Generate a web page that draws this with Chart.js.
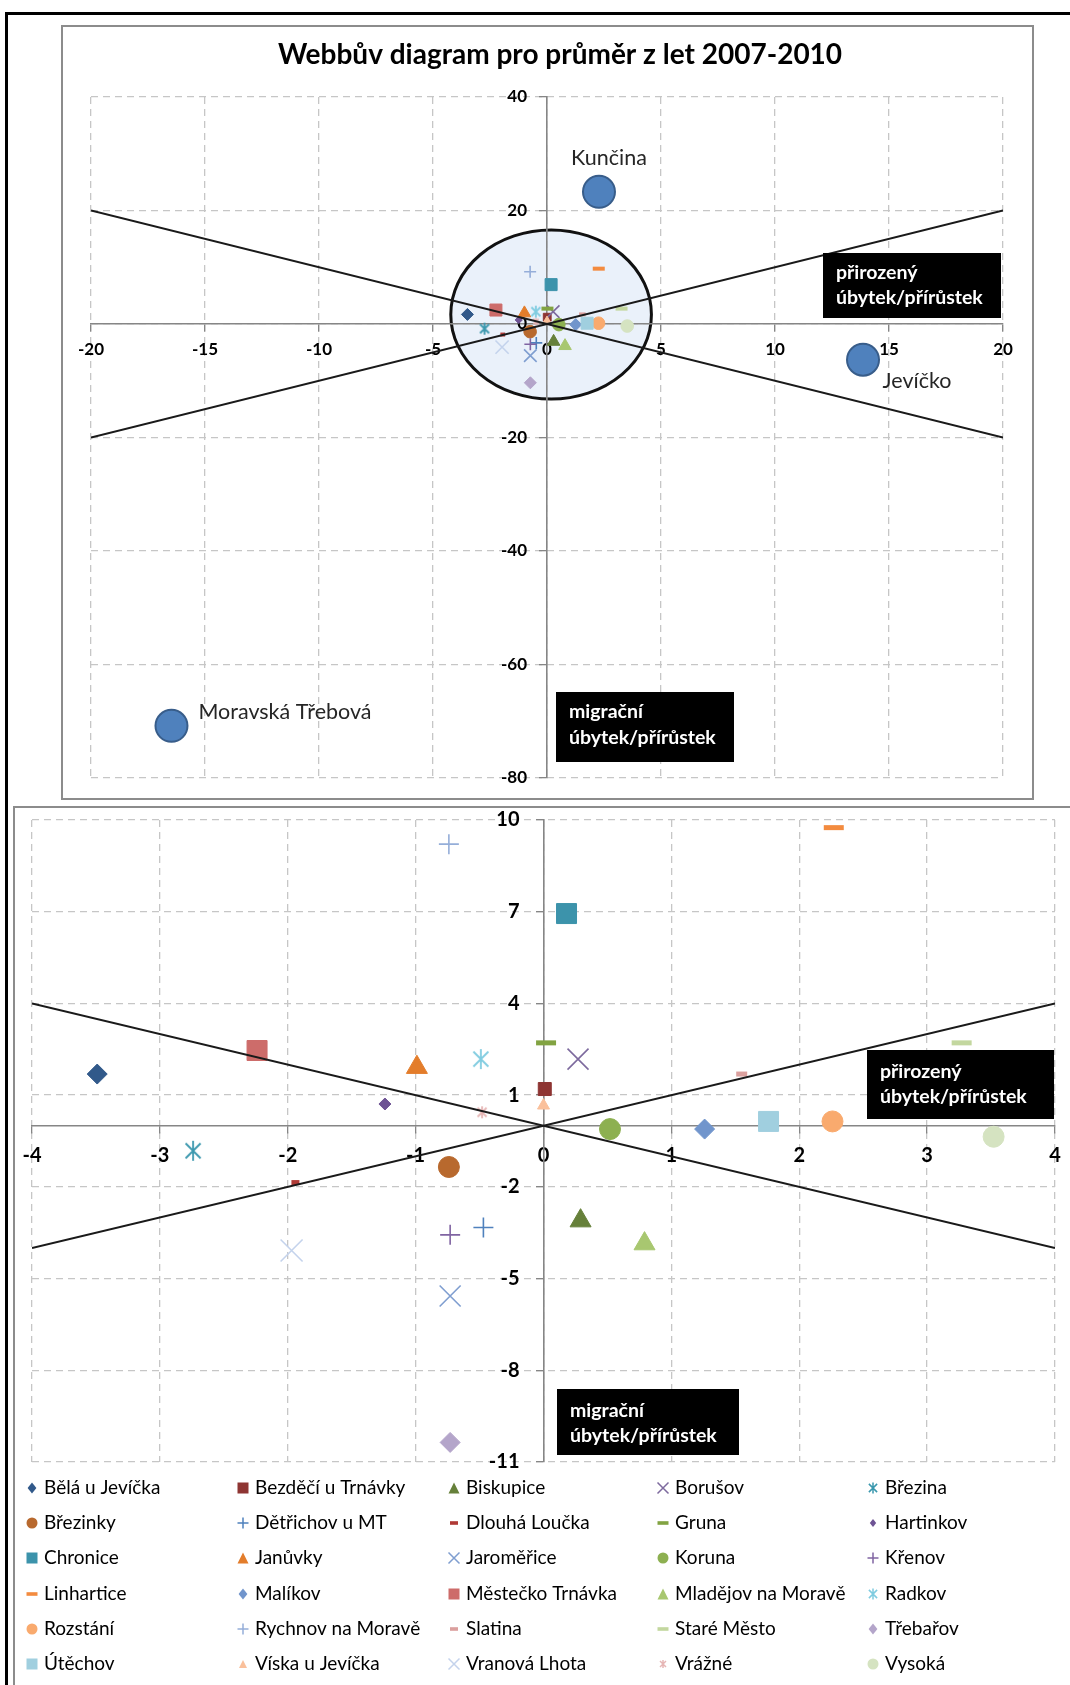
<!DOCTYPE html>
<html lang="cs">
<head>
<meta charset="utf-8">
<title>Webbův diagram pro průměr z let 2007-2010</title>
<script src="https://cdn.jsdelivr.net/npm/chart.js@4.4.1/dist/chart.umd.min.js"></script>
<style>
  html, body { margin: 0; padding: 0; background: #fff; }
  body { width: 1070px; height: 1685px; position: relative; overflow: hidden; }
  .edge { position: absolute; background: #000; }
  #edgeTop { left: 5px; top: 12px; width: 1065px; height: 3px; }
  #edgeLeft { left: 5px; top: 12px; width: 3px; height: 1673px; }
  .box { position: absolute; border: 2px solid #8c8c8c; background: #fff; }
  #topBox { left: 61px; top: 25px; width: 969px; height: 771px; }
  #bottomBox { left: 13px; top: 806px; width: 1060px; height: 900px; }
  canvas { display: block; }
</style>
</head>
<body>
<div class="edge" id="edgeTop"></div>
<div class="edge" id="edgeLeft"></div>
<div class="box" id="topBox"><canvas id="topChart" width="969" height="771"></canvas></div>
<div class="box" id="bottomBox"><canvas id="bottomChart" width="1055" height="877"></canvas></div>
<script>
'use strict';

// obce: přirozený přírůstek (x) a migrační přírůstek (y), průměr 2007-2010
const towns = ['Bělá u Jevíčka', 'Bezděčí u Trnávky', 'Biskupice', 'Borušov', 'Březina',
    'Březinky', 'Dětřichov u MT', 'Dlouhá Loučka', 'Gruna', 'Hartinkov',
    'Chronice', 'Janůvky', 'Jaroměřice', 'Koruna', 'Křenov',
    'Linhartice', 'Malíkov', 'Městečko Trnávka', 'Mladějov na Moravě', 'Radkov',
    'Rozstání', 'Rychnov na Moravě', 'Slatina', 'Staré Město', 'Třebařov',
    'Útěchov', 'Víska u Jevíčka', 'Vranová Lhota', 'Vrážné', 'Vysoká'];
const natural = [-3.49, 0.01, 0.29, 0.27, -2.74,
    -0.74, -0.47, -1.94, 0.02, -1.24,
    0.18, -0.99, -0.73, 0.52, -0.73,
    2.27, 1.26, -2.24, 0.79, -0.49,
    2.26, -0.74, 1.55, 3.27, -0.73,
    1.76, 0.00, -1.97, -0.48, 3.52];
const migration = [1.69, 1.20, -3.11, 2.18, -0.82,
    -1.35, -3.33, -1.86, 2.71, 0.71,
    6.94, 1.91, -5.57, -0.11, -3.57,
    9.75, -0.11, 2.46, -3.86, 2.18,
    0.14, 9.21, 1.69, 2.71, -10.36,
    0.14, 0.66, -4.08, 0.44, -0.36];

// města mimo výřez (jen horní graf)
const bigTowns = ['Jevíčko', 'Kunčina', 'Moravská Třebová'];
const bigNatural = [13.86, 2.28, -16.47];
const bigMigration = [-6.3, 23.3, -70.8];

const topXTicks = [-20, -15, -10, -5, 0, 5, 10, 15, 20];
const topYTicks = [-80, -60, -40, -20, 0, 20, 40];
const bottomXTicks = [-4, -3, -2, -1, 0, 1, 2, 3, 4];
const bottomYTicks = [-11, -8, -5, -2, 1, 4, 7, 10];

// dělicí přímky y = x a y = -x
const topRise = [[-20, -20], [20, 20]];
const topFall = [[-20, 20], [20, -20]];
const bottomRise = [[-4, -4], [4, 4]];
const bottomFall = [[-4, 4], [4, -4]];

// elipsa kolem středu (jednotky os)
const centreEllipse = {x: 0.18, y: 1.67, rx: 4.4, ry: 14.9};

// --- styles ---
const colours = ['#31598A', '#8E3533', '#66803A', '#7D6A9E', '#3B98AE',
    '#B8692E', '#4F81BD', '#B03A36', '#82A342', '#6E5394',
    '#3C93AB', '#E37D2B', '#7F9ED0', '#8DB051', '#8064A2',
    '#F38B3F', '#7195CC', '#CD6C6A', '#A8C770', '#80CCE0',
    '#F9AA6E', '#95AED9', '#DBA09E', '#C3D79F', '#B4A5CA',
    '#A0CFDF', '#FAC09B', '#C4D3EC', '#E6B6B5', '#D5E3C1'];
const shapes = ['diamond', 'square', 'triangle', 'x', 'star',
    'circle', 'plus', 'dash', 'dash', 'diamond',
    'square', 'triangle', 'x', 'circle', 'plus',
    'dash', 'diamond', 'square', 'triangle', 'star',
    'circle', 'plus', 'dash', 'dash', 'diamond',
    'square', 'triangle', 'x', 'star', 'circle'];
const sizes = [20, 13, 21, 21, 20,
    21, 20, 8, 20, 12,
    20, 21, 21, 21, 20,
    20, 20, 20, 21, 20,
    21, 20, 11, 20, 20,
    20, 12, 22, 12, 21];

const gridColor = '#c6c6c6';
const axisColor = '#868686';

function asteriskCanvas(size, colour, lw) {
    const n = Math.ceil(size) + 2;
    const c = document.createElement('canvas');
    c.width = n;
    c.height = n;
    const g = c.getContext('2d');
    const m = n / 2, r = size / 2, d = r * 0.75;
    g.strokeStyle = colour;
    g.lineWidth = lw;
    g.beginPath();
    g.moveTo(m, m - r); g.lineTo(m, m + r);
    g.moveTo(m - d, m - d); g.lineTo(m + d, m + d);
    g.moveTo(m + d, m - d); g.lineTo(m - d, m + d);
    g.stroke();
    return c;
}

function markerOptions(i, scale) {
    const s = sizes[i] * scale, c = colours[i];
    const o = {pointStyle: 'circle', pointRadius: s / 2, pointBorderWidth: 1};
    switch (shapes[i]) {
        case 'diamond': o.pointStyle = 'rectRot'; break;
        case 'square': o.pointStyle = 'rect'; o.pointRadius = s / 2 / Math.SQRT1_2; break;
        case 'triangle': o.pointStyle = 'triangle'; o.pointRadius = s / Math.sqrt(3); break;
        case 'plus': o.pointStyle = 'cross'; o.pointBorderWidth = 1.6; break;
        case 'x': o.pointStyle = 'crossRot'; o.pointRadius = s / 2 / Math.SQRT1_2; o.pointBorderWidth = 1.6; break;
        case 'dash': o.pointStyle = 'line'; o.pointBorderWidth = 5 * Math.max(scale, 0.8); break;
        case 'star': o.pointStyle = asteriskCanvas(s, c, 1.8); break;
    }
    o.pointHoverRadius = o.pointRadius;
    o.pointBackgroundColor = c;
    o.pointBorderColor = c;
    return o;
}

function townDatasets(scale) {
    return towns.map((name, i) => Object.assign({
        label: name,
        data: [{x: natural[i], y: migration[i]}],
        order: 40 - i
    }, markerOptions(i, scale)));
}

function lineDataset(pairs) {
    return {
        label: '',
        data: pairs.map(p => ({x: p[0], y: p[1]})),
        showLine: true,
        borderColor: '#1a1a1a',
        borderWidth: 2,
        pointRadius: 0,
        pointHoverRadius: 0,
        order: -1
    };
}

// osy protínající se v nule (jako v Excelu)
function axes(xTicks, yTicks, fontSize, xPad) {
    const tickFont = {family: 'Lato', weight: 'bold', size: fontSize};
    const common = {
        type: 'linear',
        grid: {color: gridColor, lineWidth: 1.3, borderDash: [7, 5], tickColor: axisColor, tickLength: 7, tickWidth: 1.3, tickBorderDash: []},
        border: {display: true, color: axisColor, width: 1.6, dash: [7, 5]},
        afterFit: s => {
            s.paddingTop = 0; s.paddingBottom = 0; s.paddingLeft = 0; s.paddingRight = 0;
        }
    };
    return {
        x: Object.assign({}, common, {
            axis: 'x',
            position: {y: 0},
            min: xTicks[0], max: xTicks[xTicks.length - 1],
            afterBuildTicks: s => { s.ticks = xTicks.map(v => ({value: v})); },
            ticks: {font: tickFont, color: '#000', padding: xPad, autoSkip: false, maxRotation: 0}
        }),
        y: Object.assign({}, common, {
            axis: 'y',
            position: {x: 0},
            min: yTicks[0], max: yTicks[yTicks.length - 1],
            afterBuildTicks: s => { s.ticks = yTicks.map(v => ({value: v})); },
            ticks: {font: tickFont, color: '#000', autoSkip: false}
        })
    };
}

// popisky svislé osy odsadit od osy (u osy v nule je Chart.js kreslí až k čáře)
const yLabelGapPlugin = {
    id: 'yLabelGap',
    beforeDraw(chart, args, opts) {
        const items = chart.scales.y.getLabelItems();
        if (items._shifted) return;
        items.forEach(it => { it.options.translation[0] -= opts.gap; });
        items._shifted = true;
    }
};

// nadpis v originále není přesně nad osou
const titleShiftPlugin = {
    id: 'titleShift',
    afterLayout(chart, args, opts) {
        if (!opts.dx || !chart.titleBlock) return;
        chart.titleBlock.left += opts.dx;
        chart.titleBlock.right += opts.dx;
    }
};

const ellipsePlugin = {
    id: 'centreEllipse',
    beforeDraw(chart, args, opts) {
        if (!opts.show) return;
        const {ctx, scales: {x, y}} = chart;
        const cx = x.getPixelForValue(centreEllipse.x);
        const cy = y.getPixelForValue(centreEllipse.y);
        const rx = Math.abs(x.getPixelForValue(centreEllipse.x + centreEllipse.rx) - cx);
        const ry = Math.abs(y.getPixelForValue(centreEllipse.y + centreEllipse.ry) - cy);
        ctx.save();
        ctx.beginPath();
        ctx.ellipse(cx, cy, rx, ry, 0, 0, Math.PI * 2);
        ctx.fillStyle = '#EAF1FA';
        ctx.fill();
        ctx.lineWidth = 3;
        ctx.strokeStyle = '#111';
        ctx.stroke();
        ctx.restore();
    }
};

// popisky velkých měst vedle bublin
const bubbleLabelPlugin = {
    id: 'bubbleLabels',
    afterDatasetsDraw(chart, args, opts) {
        if (!opts.offsets) return;
        const {ctx} = chart;
        chart.data.datasets.forEach((ds, di) => {
            if (!ds.townLabels) return;
            chart.getDatasetMeta(di).data.forEach((pt, k) => {
                const name = ds.townLabels[k];
                const off = opts.offsets[name];
                ctx.save();
                ctx.font = '21.5px Lato';
                ctx.fillStyle = '#262626';
                ctx.textAlign = off[2];
                ctx.textBaseline = 'middle';
                ctx.fillText(name, pt.x + off[0], pt.y + off[1]);
                ctx.restore();
            });
        });
    }
};

// černé popisky kvadrantů
const noteBoxPlugin = {
    id: 'noteBoxes',
    afterDraw(chart, args, opts) {
        if (!opts.items) return;
        const {ctx} = chart;
        opts.items.forEach(b => {
            ctx.save();
            ctx.fillStyle = '#000';
            ctx.fillRect(b.x, b.y, b.w, b.h);
            ctx.fillStyle = '#fff';
            ctx.font = 'bold 19.5px Lato';
            ctx.textBaseline = 'middle';
            ctx.textAlign = 'left';
            b.lines.forEach((t, k) => ctx.fillText(t, b.x + 13, b.y + b.lineY[k]));
            ctx.restore();
        });
    }
};

function drawLegendMarker(ctx, shape, cx, cy, s, colour) {
    const r = s / 2;
    ctx.fillStyle = colour;
    ctx.strokeStyle = colour;
    ctx.lineWidth = 1.5;
    ctx.beginPath();
    switch (shape) {
        case 'diamond':
            ctx.moveTo(cx, cy - r); ctx.lineTo(cx + r * 0.8, cy); ctx.lineTo(cx, cy + r); ctx.lineTo(cx - r * 0.8, cy);
            ctx.closePath(); ctx.fill(); break;
        case 'square':
            ctx.fillRect(cx - r, cy - r, s, s); break;
        case 'triangle':
            ctx.moveTo(cx, cy - r); ctx.lineTo(cx + r, cy + r); ctx.lineTo(cx - r, cy + r);
            ctx.closePath(); ctx.fill(); break;
        case 'circle':
            ctx.arc(cx, cy, r, 0, Math.PI * 2); ctx.fill(); break;
        case 'plus':
            ctx.moveTo(cx - r, cy); ctx.lineTo(cx + r, cy); ctx.moveTo(cx, cy - r); ctx.lineTo(cx, cy + r);
            ctx.stroke(); break;
        case 'x':
            ctx.moveTo(cx - r, cy - r); ctx.lineTo(cx + r, cy + r); ctx.moveTo(cx + r, cy - r); ctx.lineTo(cx - r, cy + r);
            ctx.stroke(); break;
        case 'star':
            ctx.moveTo(cx, cy - r); ctx.lineTo(cx, cy + r);
            ctx.moveTo(cx - r * 0.75, cy - r * 0.75); ctx.lineTo(cx + r * 0.75, cy + r * 0.75);
            ctx.moveTo(cx + r * 0.75, cy - r * 0.75); ctx.lineTo(cx - r * 0.75, cy + r * 0.75);
            ctx.stroke(); break;
        case 'dash':
            ctx.fillRect(cx - r, cy - 1.8, s, 3.6); break;
    }
}

const gridLegendPlugin = {
    id: 'gridLegend',
    afterDraw(chart, args, opts) {
        if (!opts.cols) return;
        const {ctx} = chart;
        towns.forEach((name, i) => {
            const col = i % opts.cols.length;
            const row = Math.floor(i / opts.cols.length);
            const mx = opts.cols[col], my = opts.rows[row];
            ctx.save();
            drawLegendMarker(ctx, shapes[i], mx, my, sizes[i] >= 13 ? 11 : 8, colours[i]);
            ctx.fillStyle = '#000';
            ctx.font = '19px Lato';
            ctx.textBaseline = 'middle';
            ctx.textAlign = 'left';
            ctx.fillText(name, mx + opts.gap, my);
            ctx.restore();
        });
    }
};

Chart.register(yLabelGapPlugin, titleShiftPlugin, ellipsePlugin, bubbleLabelPlugin, noteBoxPlugin, gridLegendPlugin);
Chart.defaults.font.family = "Lato, sans-serif";
Chart.defaults.animation = false;

// --- horní graf ---
let topDatasets = [lineDataset(topRise), lineDataset(topFall)].concat(townDatasets(0.6));
topDatasets.push({
    label: 'města',
    townLabels: bigTowns,
    data: bigNatural.map((v, i) => ({x: v, y: bigMigration[i]})),
    pointStyle: 'circle',
    pointRadius: 16,
    pointHoverRadius: 16,
    pointBackgroundColor: '#4F81BD',
    pointBorderColor: '#385D8A',
    pointBorderWidth: 2,
    order: 0
});

let topChart = new Chart(document.getElementById('topChart').getContext('2d'), {
    type: 'scatter',
    data: {datasets: topDatasets},
    options: {
        responsive: false,
        devicePixelRatio: 1,
        events: [],
        layout: {autoPadding: false, padding: {top: 0, left: 28, right: 29, bottom: 20}},
        scales: axes(topXTicks, topYTicks, 17, 8.8),
        plugins: {
            legend: {display: false},
            tooltip: {enabled: false},
            title: {
                display: true,
                text: 'Webbův diagram pro průměr z let 2007-2010',
                color: '#000',
                font: {family: 'Lato', weight: 'bold', size: 28},
                padding: {top: 10.9, bottom: 25.5}
            },
            titleShift: {dx: 13},
            yLabelGap: {gap: 20},
            centreEllipse: {show: true},
            bubbleLabels: {
                offsets: {
                    'Jevíčko': [54, 21, 'center'],
                    'Kunčina': [10, -34, 'center'],
                    'Moravská Třebová': [27, -14, 'left']
                }
            },
            noteBoxes: {
                items: [
                    {x: 760, y: 226, w: 178, h: 65, lines: ['přirozený', 'úbytek/přírůstek'], lineY: [20, 45]},
                    {x: 493, y: 665, w: 178, h: 70, lines: ['migrační', 'úbytek/přírůstek'], lineY: [20, 46]}
                ]
            }
        }
    }
});

// --- dolní graf (detail středu) ---
let bottomChart = new Chart(document.getElementById('bottomChart').getContext('2d'), {
    type: 'scatter',
    data: {datasets: [lineDataset(bottomRise), lineDataset(bottomFall)].concat(townDatasets(1))},
    options: {
        responsive: false,
        devicePixelRatio: 1,
        events: [],
        layout: {autoPadding: false, padding: {top: 12, left: 17, right: 15, bottom: 223}},
        scales: axes(bottomXTicks, bottomYTicks, 20, 11),
        plugins: {
            legend: {display: false},
            tooltip: {enabled: false},
            title: {display: false},
            yLabelGap: {gap: 24},
            noteBoxes: {
                items: [
                    {x: 852, y: 242, w: 187, h: 69, lines: ['přirozený', 'úbytek/přírůstek'], lineY: [22, 47]},
                    {x: 542, y: 581, w: 182, h: 66, lines: ['migrační', 'úbytek/přírůstek'], lineY: [22, 47]}
                ]
            },
            gridLegend: {
                cols: [17, 228, 439, 648, 858],
                rows: [680, 715, 750, 786, 821, 856],
                gap: 12
            }
        }
    }
});
</script>
</body>
</html>
